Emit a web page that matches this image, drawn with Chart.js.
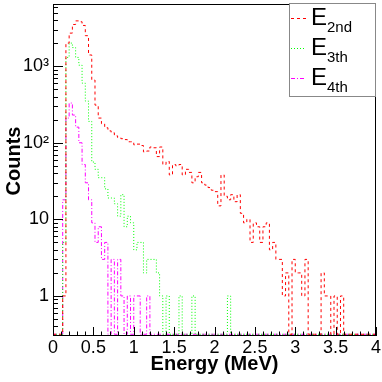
<!DOCTYPE html>
<html>
<head>
<meta charset="utf-8">
<script src="https://cdn.jsdelivr.net/npm/chart.js@4.4.0/dist/chart.umd.min.js"></script>
<style>
  html, body { margin: 0; padding: 0; background: #fff; }
</style>
</head>
<body>
<canvas id="energy-hist" width="382" height="382"></canvas>
<script>
"use strict";

// histogram binning: 100 bins from 0 to 4 MeV
const binWidth = 0.04;

// counts per bin
const e2nd = [0, 0, 0, 1, 2000, 2700, 3500, 3900, 3800, 3400,
  2500, 1400, 660, 310, 210, 177, 157, 143, 135, 123,
  117, 113, 110, 103, 103, 94, 96, 92, 76, 78,
  88, 86, 66, 88, 52, 57, 38, 52, 50, 52,
  38, 45, 41, 30, 36, 41, 30, 28, 26, 24,
  23, 15, 38, 20, 18, 21, 17, 21, 12, 9,
  10, 5, 9, 8, 5, 8, 9, 4, 5, 3,
  3, 1, 2, 0, 3, 2, 2, 1, 3, 0,
  0, 0, 0, 2, 1, 1, 0, 1, 0, 1,
  0, 0, 0, 0, 0, 0, 0, 0, 0, 0];

const e3th = [0, 0, 0, 5, 1300, 2000, 1750, 1300, 1030, 600,
  350, 190, 56, 45, 35, 35, 25, 19, 19, 16,
  11, 21, 8, 11, 9, 4, 5, 5, 2, 3,
  3, 3, 2, 1, 0, 1, 0, 0, 0, 1,
  0, 0, 0, 1, 0, 0, 0, 0, 0, 0,
  0, 0, 0, 0, 1, 0, 0, 0, 0, 0,
  0, 0, 0, 0, 0, 0, 0, 0, 0, 0,
  0, 0, 0, 0, 0, 0, 0, 0, 0, 0,
  0, 0, 0, 0, 0, 0, 0, 0, 0, 0,
  0, 0, 0, 0, 0, 0, 0, 0, 0, 0];

const e4th = [0, 0, 0, 18, 210, 330, 230, 160, 100, 52,
  30, 18, 9, 5, 8, 3, 5, 0, 3, 0,
  3, 1, 0, 1, 0, 1, 1, 0, 0, 1,
  0, 0, 0, 0, 0, 0, 0, 0, 0, 0,
  0, 0, 0, 0, 0, 0, 0, 0, 0, 0,
  0, 0, 0, 0, 0, 0, 0, 0, 0, 0,
  0, 0, 0, 0, 0, 0, 0, 0, 0, 0,
  0, 0, 0, 0, 0, 0, 0, 0, 0, 0,
  0, 0, 0, 0, 0, 0, 0, 0, 0, 0,
  0, 0, 0, 0, 0, 0, 0, 0, 0, 0];

const seriesSubs = ['2nd', '3th', '4th'];
const xTicks = [0, 0.5, 1, 1.5, 2, 2.5, 3, 3.5, 4];
const xTickLabels = ['0', '0.5', '1', '1.5', '2', '2.5', '3', '3.5', '4'];
const yTicks = [1, 10, 100, 1000];
const yTickLabels = ['1', '10', '10\u00B2', '10\u00B3'];
const yMin = 0.316, yMax = 6480;

const FONT = "'Liberation Sans', Arial, Helvetica, sans-serif";
const colors = ['#ff0000', '#00ff00', '#ff00ff'];
const dashes = [[3, 3], [1, 2], [4, 2, 1, 2]];

// empty bins are drawn on the floor of the log axis, like ROOT does
function toSteps(counts) {
  const pts = counts.map((c, i) => ({x: i * binWidth, y: c > 0 ? c : yMin}));
  pts.push({x: counts.length * binWidth, y: yMin});
  return pts;
}

const frameDecor = {
  id: 'frameDecor',
  afterDraw(chart) {
    const ctx = chart.ctx;
    const a = chart.chartArea;
    const xs = chart.scales.x, ys = chart.scales.y;
    ctx.save();
    ctx.strokeStyle = '#000';
    ctx.lineWidth = 1;
    ctx.setLineDash([]);
    ctx.beginPath();
    // x ticks, inside the frame
    for (let k = 0; k <= 40; k++) {
      const px = Math.round(xs.getPixelForValue(k / 10)) + 0.5;
      const len = k % 5 === 0 ? 9 : 4.5;
      ctx.moveTo(px, a.bottom);
      ctx.lineTo(px, a.bottom - len);
    }
    // y ticks (log)
    for (let d = -1; d <= 3; d++) {
      for (let m = 1; m <= 9; m++) {
        const v = m * Math.pow(10, d);
        if (v < yMin || v > yMax) continue;
        const py = Math.round(ys.getPixelForValue(v)) + 0.5;
        const len = m === 1 ? 10 : 5;
        ctx.moveTo(a.left, py);
        ctx.lineTo(a.left + len, py);
      }
    }
    ctx.stroke();
    ctx.strokeRect(Math.round(a.left) + 0.5, Math.round(a.top) + 0.5,
      Math.round(a.right - a.left) - 1, Math.round(a.bottom - a.top) - 1);

    // axis titles
    ctx.fillStyle = '#000';
    ctx.font = 'bold 20px ' + FONT;
    ctx.textAlign = 'center';
    ctx.textBaseline = 'middle';
    ctx.fillText('Energy (MeV)', (a.left + a.right) / 2, 364);
    ctx.save();
    ctx.translate(14, 161);
    ctx.rotate(-Math.PI / 2);
    ctx.fillText('Counts', 0, 0);
    ctx.restore();

    // legend box
    ctx.fillStyle = '#fff';
    ctx.fillRect(289, 3, 87, 94);
    ctx.strokeStyle = '#888';
    ctx.strokeRect(289.5, 3.5, 86, 93);
    ctx.textAlign = 'left';
    ctx.textBaseline = 'alphabetic';
    seriesSubs.forEach((sub, i) => {
      const base = 25 + i * 30;
      ctx.strokeStyle = colors[i];
      ctx.setLineDash(dashes[i]);
      ctx.beginPath();
      ctx.moveTo(291, base - 6.5);
      ctx.lineTo(306, base - 6.5);
      ctx.stroke();
      ctx.setLineDash([]);
      ctx.fillStyle = '#000';
      ctx.font = '24px ' + FONT;
      ctx.fillText('E', 311, base);
      ctx.font = '15px ' + FONT;
      ctx.fillText(sub, 327, base + 7);
    });
    ctx.restore();
  }
};

const seriesData = [e2nd, e3th, e4th];
const datasets = seriesData.map((counts, i) => ({
  label: 'E' + seriesSubs[i],
  data: toSteps(counts),
  stepped: true,
  borderColor: colors[i],
  borderWidth: 1,
  borderDash: dashes[i],
  pointRadius: 0,
  fill: false,
  tension: 0
}));

const ctx = document.getElementById('energy-hist').getContext('2d');
const myChart = new Chart(ctx, {
  type: 'line',
  data: {datasets: datasets},
  plugins: [frameDecor],
  options: {
    responsive: false,
    animation: false,
    devicePixelRatio: 1,
    layout: {padding: {top: 4, right: 6, left: 0, bottom: 0}},
    plugins: {
      legend: {display: false},
      tooltip: {enabled: false}
    },
    scales: {
      x: {
        type: 'linear',
        min: 0,
        max: 4,
        grid: {display: false, drawTicks: false},
        border: {display: false},
        afterBuildTicks: s => { s.ticks = xTicks.map(v => ({value: v})); },
        afterFit: s => { s.height = 46; s.paddingLeft = 0; s.paddingRight = 0; },
        ticks: {
          autoSkip: false,
          maxRotation: 0,
          padding: 1,
          color: '#000',
          font: {family: FONT, size: 18},
          callback: (v, idx) => xTickLabels[idx]
        }
      },
      y: {
        type: 'logarithmic',
        min: yMin,
        max: yMax,
        grid: {display: false, drawTicks: false},
        border: {display: false},
        afterBuildTicks: s => { s.ticks = yTicks.map(v => ({value: v})); },
        afterFit: s => { s.width = 53; s.paddingTop = 0; s.paddingBottom = 0; },
        ticks: {
          autoSkip: false,
          padding: 4,
          color: '#000',
          font: {family: FONT, size: 18},
          callback: (v, idx) => yTickLabels[idx]
        }
      }
    }
  }
});
</script>
</body>
</html>
